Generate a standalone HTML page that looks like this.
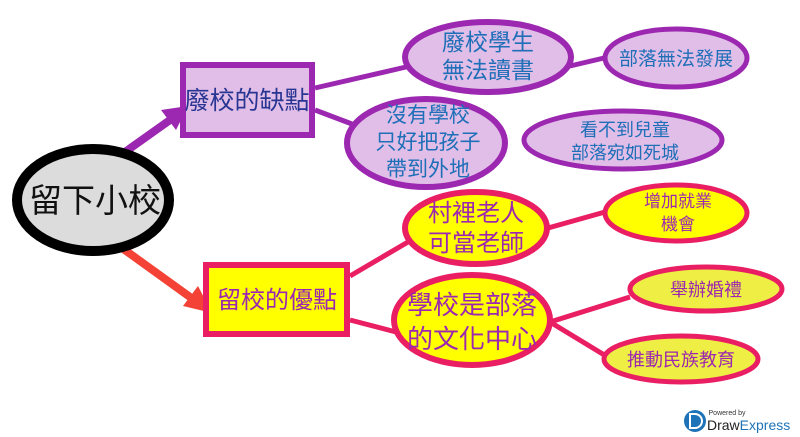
<!DOCTYPE html>
<html><head><meta charset="utf-8"><style>
html,body{margin:0;padding:0;background:#fff;}
svg{display:block;}
text{font-family:"Liberation Sans","Noto Sans CJK TC",sans-serif;text-anchor:middle;}
</style></head><body>
<svg width="800" height="437" viewBox="0 0 800 437" xmlns="http://www.w3.org/2000/svg">
<g stroke="#9c27b0" stroke-width="5" fill="none">
<line x1="315" y1="88" x2="406" y2="67"/>
<line x1="315" y1="110" x2="352" y2="124"/>
<line x1="570" y1="66" x2="604" y2="58"/>
</g>
<g stroke="#e91e63" stroke-width="5" fill="none">
<line x1="350" y1="276" x2="408" y2="242"/>
<line x1="350" y1="320" x2="396" y2="332"/>
<line x1="548" y1="228" x2="605" y2="212"/>
<line x1="550" y1="322" x2="630" y2="297"/>
<line x1="550" y1="322" x2="606" y2="356"/>
</g>
<line x1="125" y1="152" x2="170" y2="120" stroke="#9c27b0" stroke-width="8"/>
<polygon points="188,106 161,110 176,130" fill="#9c27b0"/>
<line x1="122" y1="248" x2="190" y2="297" stroke="#f44336" stroke-width="8"/>
<polygon points="212,313 183,306 198,286" fill="#f44336"/>
<ellipse cx="93" cy="200" rx="76" ry="51" fill="#dcdcdc" stroke="#000" stroke-width="10"/>
<text x="95" y="212" font-size="33" fill="#111">留下小校</text>
<rect x="183" y="65" width="129" height="70" fill="#e1bee7" stroke="#9c27b0" stroke-width="6"/>
<text x="247" y="109" font-size="25" fill="#283593">廢校的缺點</text>
<ellipse cx="488" cy="57" rx="83" ry="35" fill="#e1bee7" stroke="#9c27b0" stroke-width="6"/>
<text x="488" y="50" font-size="23" fill="#1e6fb8">廢校學生</text>
<text x="488" y="78" font-size="23" fill="#1e6fb8">無法讀書</text>
<ellipse cx="676" cy="58" rx="71" ry="29" fill="#e1bee7" stroke="#9c27b0" stroke-width="5"/>
<text x="676" y="65" font-size="19" fill="#1e6fb8">部落無法發展</text>
<ellipse cx="426" cy="143" rx="79" ry="44" fill="#e1bee7" stroke="#9c27b0" stroke-width="6"/>
<text x="428" y="122" font-size="21" fill="#1e6fb8">沒有學校</text>
<text x="428" y="149" font-size="21" fill="#1e6fb8">只好把孩子</text>
<text x="428" y="176" font-size="21" fill="#1e6fb8">帶到外地</text>
<ellipse cx="623" cy="140" rx="99" ry="29" fill="#e1bee7" stroke="#9c27b0" stroke-width="5"/>
<text x="625" y="136" font-size="18" fill="#1e6fb8">看不到兒童</text>
<text x="625" y="159" font-size="18" fill="#1e6fb8">部落宛如死城</text>
<rect x="206" y="265" width="141" height="69" fill="#ffff00" stroke="#e91e63" stroke-width="6"/>
<text x="277" y="308" font-size="24" fill="#9c27b0">留校的優點</text>
<ellipse cx="476" cy="228" rx="71" ry="36" fill="#ffff00" stroke="#e91e63" stroke-width="6"/>
<text x="476" y="221" font-size="24" fill="#9c27b0">村裡老人</text>
<text x="476" y="251" font-size="24" fill="#9c27b0">可當老師</text>
<ellipse cx="472" cy="320" rx="78" ry="45" fill="#ffff00" stroke="#e91e63" stroke-width="6"/>
<text x="472" y="314" font-size="26" fill="#9c27b0">學校是部落</text>
<text x="472" y="348" font-size="26" fill="#9c27b0">的文化中心</text>
<ellipse cx="676" cy="213" rx="71" ry="28" fill="#ffff00" stroke="#e91e63" stroke-width="5"/>
<text x="678" y="207" font-size="17" fill="#9c27b0">增加就業</text>
<text x="678" y="230" font-size="17" fill="#9c27b0">機會</text>
<ellipse cx="706" cy="289" rx="76" ry="22" fill="#eeee44" stroke="#e91e63" stroke-width="5"/>
<text x="706" y="296" font-size="18" fill="#9c27b0">舉辦婚禮</text>
<ellipse cx="681" cy="359" rx="77" ry="23" fill="#eeee44" stroke="#e91e63" stroke-width="5"/>
<text x="681" y="366" font-size="18" fill="#9c27b0">推動民族教育</text>
<circle cx="695" cy="421" r="11" fill="#1e73b8"/>
<path d="M690 414 h5 a7 7 0 0 1 0 14 h-5 z" fill="none" stroke="#fff" stroke-width="2"/>
<text x="727" y="415" font-size="7" fill="#333">Powered by</text>
<text x="707" y="430" font-size="14" fill="#222" style="text-anchor:start">Draw<tspan fill="#1e73b8">Express</tspan></text>
</svg>
</body></html>
